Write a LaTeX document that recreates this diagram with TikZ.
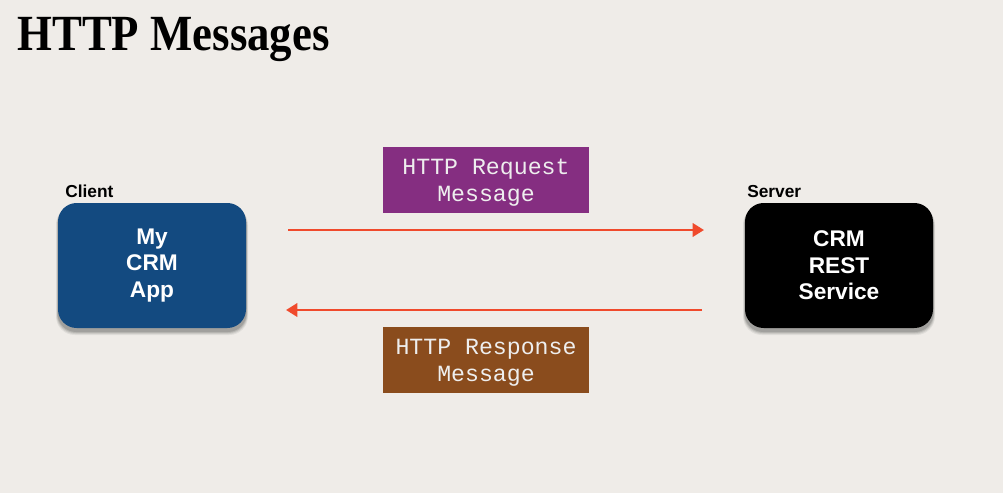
\documentclass[tikz,border=0pt]{standalone}
\usepackage{fontspec}
\setsansfont{Liberation Sans}
\setmonofont{Liberation Mono}
\newfontfamily\headingfont{Liberation Serif}
\usetikzlibrary{arrows.meta,calc}

\definecolor{paper}{HTML}{EFECE8}
\definecolor{clientblue}{HTML}{134A80}
\definecolor{reqpurple}{HTML}{852E81}
\definecolor{resbrown}{HTML}{8A4C1D}
\definecolor{wire}{HTML}{F04A2C}
\definecolor{msgtext}{HTML}{EEEEEE}

\tikzset{
  tier/.style={rounded corners=14pt, minimum width=141pt, minimum height=93.75pt,
    text=white, align=center, inner sep=0pt,
    font=\sffamily\bfseries\fontsize{17}{19.9}\selectfont},
  msgbox/.style={minimum width=154.5pt, minimum height=49.5pt, inner sep=0pt,
    text depth=0pt, text=msgtext, align=center,
    font=\ttfamily\fontsize{17.4}{20.2}\selectfont},
  tierlabel/.style={anchor=base west, inner sep=0pt,
    font=\sffamily\bfseries\fontsize{13}{15}\selectfont},
  flow/.style={draw=wire, line width=1.9pt, -{Triangle[length=8.5pt,width=10pt]}},
}

% soft shadow under a rounded box, built from layered translucent copies
\newcommand{\softshadow}[2]{%
  \foreach \g/\o in {4/0.06,3/0.08,2/0.10,1/0.12}{%
    \fill[black, opacity=\o, rounded corners=14pt]
      ($(#1)+(-\g*0.5,3)$) rectangle ($(#2)+(\g*0.5,3+\g)$);}}

\begin{document}
\begin{tikzpicture}[x=0.75pt, y=-0.75pt]
  \fill[paper] (0,0) rectangle (1003,493);
  \useasboundingbox (0,0) rectangle (1003,493);

  % heading
  \node[anchor=base west, inner sep=0pt] (title) at (17,50)
    {\scalebox{3.36}[3.8]{\headingfont\bfseries\fontsize{10}{12}\selectfont HTTP Messages}};

  % shadows of the two tiers
  \softshadow{58,203}{246,328}
  \softshadow{745,203}{933,328}

  % client and server
  \node[tier, fill=clientblue] (client) at (152,265.5) {My\\CRM\\App};
  \node[tier, fill=black] (server) at (839,265.5) {CRM\\REST\\Service};
  \node[tierlabel] (clientlbl) at (65,197) {Client};
  \node[tierlabel] (serverlbl) at (747,197) {Server};

  % messages
  \node[msgbox, fill=reqpurple] (req) at (486,180) {HTTP Request\\Message};
  \node[msgbox, fill=resbrown] (res) at (486,360) {HTTP Response\\Message};

  % request and response flows
  \coordinate (reqstart) at (288,230);
  \coordinate (reqend) at (704,230);
  \coordinate (resstart) at (702,310);
  \coordinate (resend) at (286,310);
  \draw[flow] (reqstart) -- (reqend);
  \draw[flow] (resstart) -- (resend);
\end{tikzpicture}
\end{document}
